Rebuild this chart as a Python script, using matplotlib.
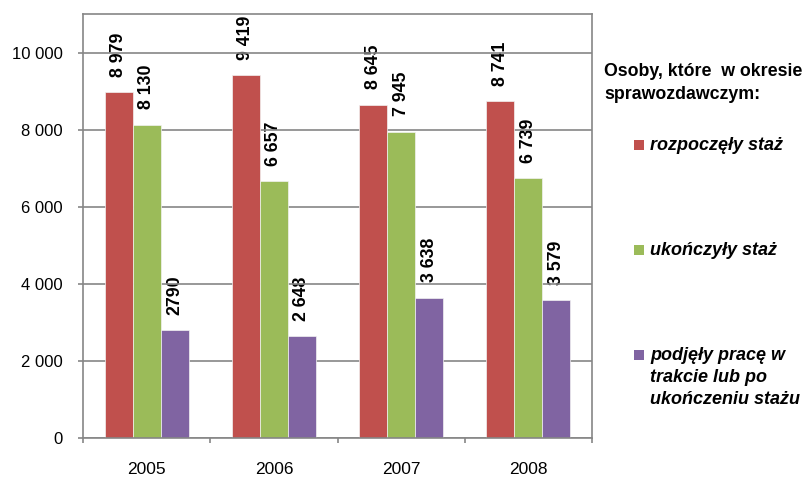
import matplotlib
matplotlib.use("Agg")
import matplotlib.pyplot as plt
import numpy as np
from matplotlib.patches import Rectangle

plt.rcParams['font.family'] = ['Liberation Sans', 'DejaVu Sans']

years = ["2005", "2006", "2007", "2008"]
series_names = ["rozpoczęły staż", "ukończyły staż",
                "podjęły pracę w\ntrakcie lub po\nukończeniu stażu"]
rozpoczely = [8979, 9419, 8645, 8741]
ukonczyly = [8130, 6657, 7945, 6739]
podjely = [2790, 2648, 3638, 3579]
label_rozpoczely = ["8 979", "9 419", "8 645", "8 741"]
label_ukonczyly = ["8 130", "6 657", "7 945", "6 739"]
label_podjely = ["2790", "2 648", "3 638", "3 579"]
colors = ["#C0504D", "#9BBB59", "#8064A2"]
yticks = [0, 2000, 4000, 6000, 8000, 10000]
ytick_labels = ["0", "2 000", "4 000", "6 000", "8 000", "10 000"]
legend_title = "Osoby, które  w okresie\nsprawozdawczym:"

W, H = 808, 478
fig = plt.figure(figsize=(W / 100, H / 100), dpi=100)
ax = fig.add_axes([83 / W, 1 - 438 / H, (592 - 83) / W, (438 - 14) / H])

x = np.arange(len(years))
w = 0.22
gray = "#868686"
all_vals = [rozpoczely, ukonczyly, podjely]
all_labels = [label_rozpoczely, label_ukonczyly, label_podjely]
for i, (vals, labs, c) in enumerate(zip(all_vals, all_labels, colors)):
    pos = x + (i - 1) * w
    ax.bar(pos, vals, width=w, color=c, edgecolor="#f2f2f2", linewidth=0.5, zorder=2)
    for p, v, t in zip(pos, vals, labs):
        ax.annotate(t, (p, v), xytext=(0, 11), textcoords="offset points",
                    rotation=90, ha="center", va="bottom", fontsize=12.8,
                    fontweight="bold", zorder=0.5)

ax.set_xlim(-0.5, 3.5)
ax.set_ylim(0, 11000)
ax.set_yticks(yticks)
ax.set_yticklabels(ytick_labels, fontsize=12)
ax.set_xticks(x)
ax.set_xticklabels(years, fontsize=12.5)
ax.set_xticks([-0.5, 0.5, 1.5, 2.5, 3.5], minor=True)
ax.tick_params(axis="x", which="major", length=0, pad=17)
ax.tick_params(axis="x", which="minor", length=3.6, color=gray, width=1.2)
ax.tick_params(axis="y", length=3.6, color=gray, width=1.2, pad=11)
ax.yaxis.grid(True, color=gray, linewidth=1.2)
for gl in ax.get_ygridlines():
    gl.set_zorder(1)
for s in ax.spines.values():
    s.set_color(gray)
    s.set_linewidth(1.2)
    s.set_zorder(3)

fig.text(604 / W, 1 - 63 / H, legend_title, fontsize=12.8, fontweight="bold",
         ha="left", va="top", linespacing=1.45)

# legend entries (handle aligned with the first line of each label)
entry_centers = [145, 250, 355]
for name, c, yc in zip(series_names, colors, entry_centers):
    fig.patches.append(Rectangle((634 / W, 1 - (yc + 5) / H), 10 / W, 10 / H,
                                 transform=fig.transFigure, facecolor=c,
                                 edgecolor="none"))
    fig.text(650 / W, 1 - (yc - 8) / H, name, fontsize=13, fontweight="bold",
             style="italic", ha="left", va="top", linespacing=1.4)

fig.savefig("out.png", dpi=100)
